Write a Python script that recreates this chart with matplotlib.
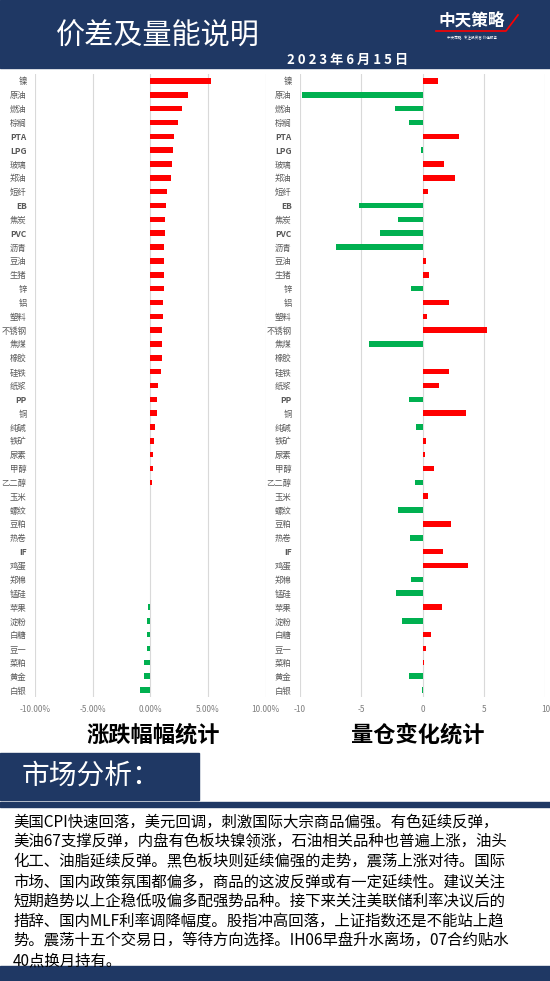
import numpy as np
import matplotlib.pyplot as plt

plt.rcParams['font.family'] = ['Noto Sans CJK SC', 'DejaVu Sans']

# ---- data ----
categories = ['镍', '原油', '燃油', '棕榈', 'PTA', 'LPG', '玻璃', '郑油', '短纤', 'EB',
              '焦炭', 'PVC', '沥青', '豆油', '生猪', '锌', '铝', '塑料', '不锈钢', '焦煤',
              '橡胶', '硅铁', '纸浆', 'PP', '铜', '纯碱', '铁矿', '尿素', '甲醇', '乙二醇',
              '玉米', '螺纹', '豆粕', '热卷', 'IF', '鸡蛋', '郑棉', '锰硅', '苹果', '淀粉',
              '白糖', '豆一', '菜粕', '黄金', '白银']

# price change, %
pct_change = [5.3, 3.26, 2.77, 2.4, 2.06, 1.97, 1.89, 1.8, 1.43, 1.37,
              1.29, 1.29, 1.2, 1.2, 1.2, 1.17, 1.11, 1.11, 0.97, 0.97,
              0.97, 0.91, 0.69, 0.6, 0.6, 0.43, 0.34, 0.26, 0.26, 0.17,
              0.0, 0.0, 0.0, 0.0, -0.06, -0.06, -0.06, -0.06, -0.23, -0.26,
              -0.26, -0.26, -0.57, -0.57, -0.94]

# volume / open interest change
vol_change = [1.25, -9.8, -2.26, -1.09, 2.96, -0.14, 1.74, 2.6, 0.43, -5.19,
              -2.01, -3.48, -7.07, 0.24, 0.52, -0.95, 2.15, 0.35, 5.22, -4.38,
              0.0, 2.12, 1.3, -1.11, 3.53, -0.54, 0.27, 0.22, 0.92, -0.6,
              0.43, -2.01, 2.31, -1.03, 1.66, 3.7, -0.95, -2.17, 1.55, -1.68,
              0.68, 0.27, 0.11, -1.11, -0.05]

pct_ticks = [-10, -5, 0, 5, 10]
pct_ticklabels = ['-10.00%', '-5.00%', '0.00%', '5.00%', '10.00%']
vol_ticks = [-10, -5, 0, 5, 10]
vol_ticklabels = ['-10', '-5', '0', '5', '10']

analysis_lines = [
    '美国CPI快速回落，美元回调，刺激国际大宗商品偏强。有色延续反弹，',
    '美油67支撑反弹，内盘有色板块镍领涨，石油相关品种也普遍上涨，油头',
    '化工、油脂延续反弹。黑色板块则延续偏强的走势，震荡上涨对待。国际',
    '市场、国内政策氛围都偏多，商品的这波反弹或有一定延续性。建议关注',
    '短期趋势以上企稳低吸偏多配强势品种。接下来关注美联储利率决议后的',
    '措辞、国内MLF利率调降幅度。股指冲高回落，上证指数还是不能站上趋',
    '势。震荡十五个交易日，等待方向选择。IH06早盘升水离场，07合约贴水',
    '40点换月持有。',
]

NAVY = '#1f3864'
RED = '#ff0000'
GREEN = '#00b050'

W, H = 550, 981
fig = plt.figure(figsize=(W / 100, H / 100), dpi=100)


def px_axes(x0, y0, x1, y1):
    return fig.add_axes([x0 / W, 1 - y1 / H, (x1 - x0) / W, (y1 - y0) / H])


# background layer in pixel coordinates
bg = px_axes(0, 0, W, H)
bg.set_xlim(0, W)
bg.set_ylim(H, 0)
bg.axis('off')

# header band
bg.add_patch(plt.Rectangle((0, 0), W, 68, color=NAVY))
bg.text(158, 37, '价差及量能说明', color='white', fontsize=21,
        ha='center', va='center')
bg.text(348, 60, '2 0 2 3 年 6 月 1 5 日', color='white', fontsize=9.5,
        fontweight='bold', ha='center', va='center')
# logo
bg.text(472, 21, '中天策略', color='white', fontsize=12, fontweight='bold',
        ha='center', va='center')
bg.plot([436, 506, 518], [31, 31, 15], color=RED, lw=1.2)
bg.text(472, 38, '中天策略   专注投资者 价值服务', color='white', fontsize=2.6,
        ha='center', va='center')

# chart titles
bg.text(153, 735, '涨跌幅幅统计', color='black', fontsize=16,
        fontweight='bold', ha='center', va='center')
bg.text(418, 735, '量仓变化统计', color='black', fontsize=16,
        fontweight='bold', ha='center', va='center')

# market analysis box
bg.add_patch(plt.Rectangle((0, 753), 199, 47, color=NAVY))
bg.text(22, 776, '市场分析：', color='white', fontsize=20, ha='left', va='center')
bg.add_patch(plt.Rectangle((0, 802), W, 5, color=NAVY))
for i, line in enumerate(analysis_lines):
    bg.text(13, 822 + i * 19.9, line, color='black', fontsize=11.1,
            ha='left', va='center')
bg.add_patch(plt.Rectangle((0, 966), W, H - 966, color=NAVY))


def bar_panel(x0, x1, values, ticks, ticklabels):
    ax = px_axes(x0, 74, x1, 697)
    ax.patch.set_alpha(0)
    y = np.arange(len(categories))
    colors = [RED if v > 0 else GREEN for v in values]
    ax.barh(y, values, height=0.4, color=colors, zorder=3)
    ax.set_xlim(-10, 10)
    ax.set_ylim(len(categories) - 0.5, -0.5)
    ax.set_yticks(y)
    ax.set_yticklabels(categories, fontsize=6, color='#595959')
    for lbl in ax.get_yticklabels():
        if lbl.get_text().isascii():
            lbl.set_fontweight('bold')
    ax.set_xticks(ticks)
    ax.set_xticklabels(ticklabels, fontsize=6, color='#7f7f7f')
    ax.tick_params(length=0)
    ax.tick_params(axis='y', pad=6)
    ax.tick_params(axis='x', pad=6)
    ax.grid(axis='x', color='#d9d9d9', lw=0.8, zorder=0)
    for s in ax.spines.values():
        s.set_visible(False)
    return ax


bar_panel(35, 265.7, pct_change, pct_ticks, pct_ticklabels)
bar_panel(300, 545.3, vol_change, vol_ticks, vol_ticklabels)

plt.savefig('out.png', dpi=100)
